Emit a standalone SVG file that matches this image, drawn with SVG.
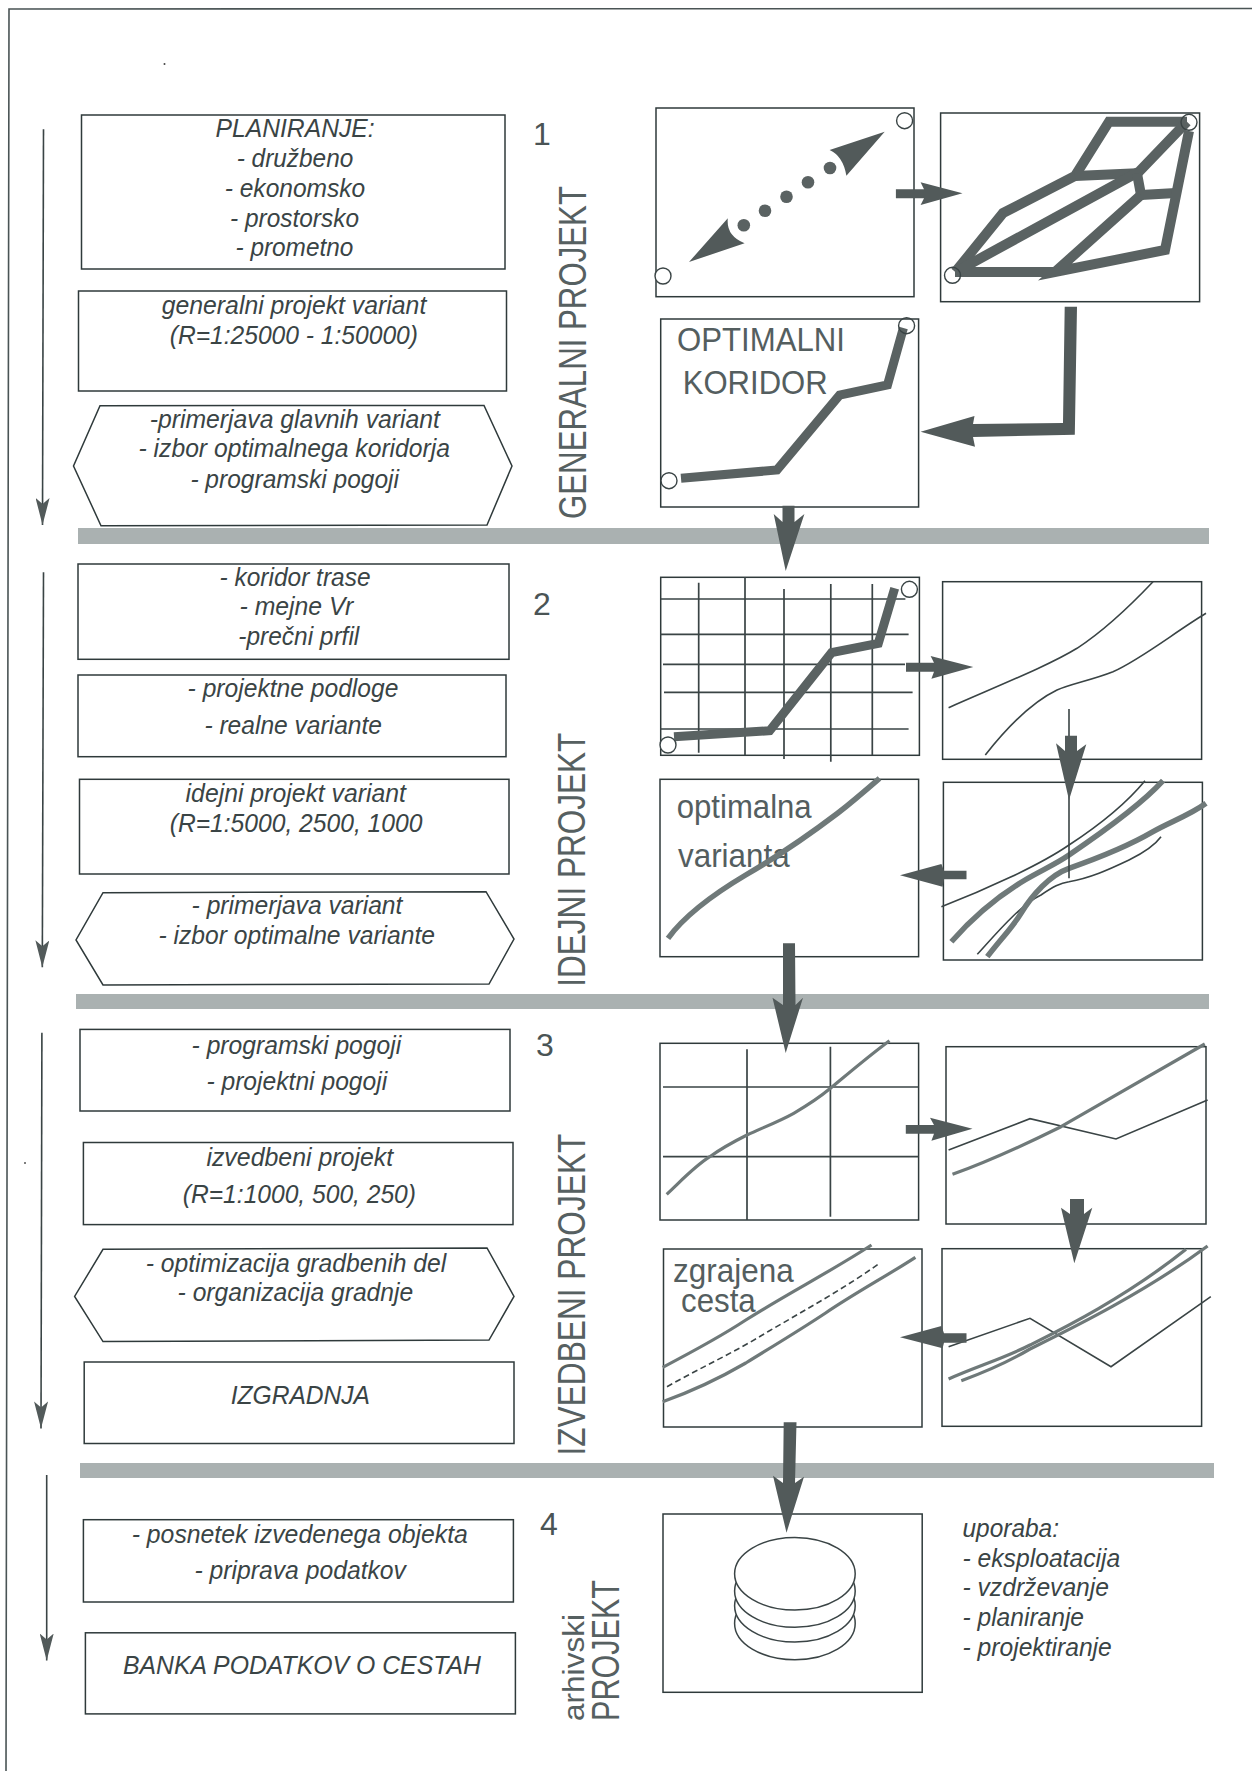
<svg xmlns="http://www.w3.org/2000/svg" width="1252" height="1771" viewBox="0 0 1252 1771">
<style>
.box{fill:#fff;stroke:#2f3a3b;stroke-width:1.5}
.pan{fill:#fff;stroke:#2f3a3b;stroke-width:1.5}
.t{font-family:"Liberation Sans",Arial,sans-serif;font-style:italic;font-size:25px;fill:#3a4445}
.r{font-family:"Liberation Sans",Arial,sans-serif;font-size:33px;fill:#545e5f}
.n{font-family:"Liberation Sans",Arial,sans-serif;font-size:32px;fill:#4a5455}
.v{font-family:"Liberation Sans",Arial,sans-serif;font-size:38px;fill:#566061}
.bar{fill:#aab1b1}
.fat{fill:none;stroke:#5a6262;stroke-width:9;stroke-linejoin:miter}
.net{fill:none;stroke:#5a6262;stroke-width:10;stroke-linejoin:miter}
.thin{fill:none;stroke:#3a4445;stroke-width:1.6}
.grid{fill:none;stroke:#3a4445;stroke-width:1.7}
.mid{fill:none;stroke:#6f7979;stroke-width:5.5}
.lite{fill:none;stroke:#6f7979;stroke-width:3.2}
.dash{fill:none;stroke:#3a4445;stroke-width:1.6;stroke-dasharray:6 3.5}
.c{fill:#fff;stroke:#3a4445;stroke-width:1.4}
.c0{fill:none;stroke:#3a4445;stroke-width:1.4}
.dot{fill:#5a6262}
.arr{fill:#525a5a}
.tl{stroke:#3a4445;stroke-width:1.6;fill:none;marker-end:url(#head)}
.db{fill:#fff;stroke:#3a4445;stroke-width:1.5}
</style>
<defs>
<marker id="head" viewBox="0 0 27 14" refX="27" refY="7" markerWidth="27" markerHeight="14" markerUnits="userSpaceOnUse" orient="auto"><path d="M0,0 L27,7 L0,14 L6,7 z" fill="#525a5a"/></marker>
</defs>
<rect width="1252" height="1771" fill="#fff"/>
<g id="frame"><path d="M1252 8.5 L9 9 L6 1771" fill="none" stroke="#4a5455" stroke-width="1.6"/><circle cx="164.5" cy="64" r="1" fill="#444"/><circle cx="25" cy="1163" r="1" fill="#555"/></g>
<g id="dividers">
<rect class="bar" x="78" y="528" width="1131" height="16"/>
<rect class="bar" x="76" y="994" width="1133" height="15"/>
<rect class="bar" x="80" y="1463" width="1134" height="15"/>
</g>

<g id="s1-planiranje"><rect class="box" x="81.5" y="115" width="423.5" height="154"/>
<text class="t" x="215.6" y="137" textLength="159" lengthAdjust="spacingAndGlyphs">PLANIRANJE:</text>
<text class="t" x="236.7" y="166.8" textLength="116.6" lengthAdjust="spacingAndGlyphs">- družbeno</text>
<text class="t" x="224.7" y="196.8" textLength="140.6" lengthAdjust="spacingAndGlyphs">- ekonomsko</text>
<text class="t" x="230" y="226.8" textLength="129" lengthAdjust="spacingAndGlyphs">- prostorsko</text>
<text class="t" x="235.5" y="256.4" textLength="117.8" lengthAdjust="spacingAndGlyphs">- prometno</text></g>
<g id="s1-generalni"><rect class="box" x="78.5" y="291" width="428" height="100"/>
<text class="t" x="161.7" y="314.3" textLength="264.6" lengthAdjust="spacingAndGlyphs">generalni projekt variant</text>
<text class="t" x="169.7" y="344" textLength="248.3" lengthAdjust="spacingAndGlyphs">(R=1:25000 - 1:50000)</text></g>
<g id="s1-primerjava"><polygon class="box" points="100,405.7 484,405.4 512,466 487,525 101,525.7 73.5,466"/>
<text class="t" x="149.7" y="427.5" textLength="290.3" lengthAdjust="spacingAndGlyphs">-primerjava glavnih variant</text>
<text class="t" x="138.5" y="457" textLength="311.5" lengthAdjust="spacingAndGlyphs">- izbor optimalnega koridorja</text>
<text class="t" x="190.4" y="487.5" textLength="208.6" lengthAdjust="spacingAndGlyphs">- programski pogoji</text></g>
<g id="s1-label"><text class="n" x="533" y="144.6">1</text>
<text class="v" transform="translate(586,519) rotate(-90)" textLength="333" lengthAdjust="spacingAndGlyphs">GENERALNI PROJEKT</text></g>

<g id="s2-koridor"><rect class="box" x="78" y="564" width="431" height="95.3"/>
<text class="t" x="219.6" y="585.7" textLength="150.9" lengthAdjust="spacingAndGlyphs">- koridor trase</text>
<text class="t" x="239.5" y="615.3" textLength="113.8" lengthAdjust="spacingAndGlyphs">- mejne Vr</text>
<text class="t" x="238.3" y="645.3" textLength="121" lengthAdjust="spacingAndGlyphs">-prečni prfil</text></g>
<g id="s2-podloge"><rect class="box" x="78" y="675" width="428" height="81.7"/>
<text class="t" x="187.6" y="696.7" textLength="210.8" lengthAdjust="spacingAndGlyphs">- projektne podloge</text>
<text class="t" x="204.4" y="734.3" textLength="177.6" lengthAdjust="spacingAndGlyphs">- realne variante</text></g>
<g id="s2-idejni"><rect class="box" x="79.5" y="779.3" width="429.5" height="94.7"/>
<text class="t" x="185.6" y="801.7" textLength="220.4" lengthAdjust="spacingAndGlyphs">idejni projekt variant</text>
<text class="t" x="169.7" y="831.7" textLength="252.7" lengthAdjust="spacingAndGlyphs">(R=1:5000, 2500, 1000</text></g>
<g id="s2-primerjava"><polygon class="box" points="103,892.7 486,891.7 514,939 489,984 103,985 76,940"/>
<text class="t" x="191.6" y="914" textLength="210.8" lengthAdjust="spacingAndGlyphs">- primerjava variant</text>
<text class="t" x="158.5" y="944" textLength="276.5" lengthAdjust="spacingAndGlyphs">- izbor optimalne variante</text></g>
<g id="s2-label"><text class="n" x="533" y="615">2</text>
<text class="v" transform="translate(585,986.7) rotate(-90)" textLength="254" lengthAdjust="spacingAndGlyphs">IDEJNI PROJEKT</text></g>

<g id="s3-pogoji"><rect class="box" x="80" y="1029.4" width="430" height="81.6"/>
<text class="t" x="191.6" y="1053.7" textLength="209.6" lengthAdjust="spacingAndGlyphs">- programski pogoji</text>
<text class="t" x="206.4" y="1090" textLength="180.8" lengthAdjust="spacingAndGlyphs">- projektni pogoji</text></g>
<g id="s3-izvedbeni"><rect class="box" x="83.4" y="1142.5" width="429.6" height="82.1"/>
<text class="t" x="206.4" y="1166.3" textLength="186.8" lengthAdjust="spacingAndGlyphs">izvedbeni projekt</text>
<text class="t" x="182.8" y="1203.2" textLength="233.2" lengthAdjust="spacingAndGlyphs">(R=1:1000, 500, 250)</text></g>
<g id="s3-optimizacija"><polygon class="box" points="103,1249.3 487,1247.9 514,1296.4 489,1340 103,1341.6 74.6,1296.4"/>
<text class="t" x="145.7" y="1272" textLength="300.6" lengthAdjust="spacingAndGlyphs">- optimizacija gradbenih del</text>
<text class="t" x="177.6" y="1301" textLength="235.6" lengthAdjust="spacingAndGlyphs">- organizacija gradnje</text></g>
<g id="s3-izgradnja"><rect class="box" x="84.2" y="1362" width="429.8" height="81.5"/>
<text class="t" x="230.7" y="1404.2" textLength="139.3" lengthAdjust="spacingAndGlyphs">IZGRADNJA</text></g>
<g id="s3-label"><text class="n" x="536" y="1056">3</text>
<text class="v" transform="translate(585,1455.6) rotate(-90)" textLength="322" lengthAdjust="spacingAndGlyphs">IZVEDBENI PROJEKT</text></g>

<g id="s4-posnetek"><rect class="box" x="83.4" y="1519.7" width="430" height="82.3"/>
<text class="t" x="131.7" y="1542.5" textLength="336.2" lengthAdjust="spacingAndGlyphs">- posnetek izvedenega objekta</text>
<text class="t" x="194.4" y="1579" textLength="211.6" lengthAdjust="spacingAndGlyphs">- priprava podatkov</text></g>
<g id="s4-banka"><rect class="box" x="85.4" y="1632.8" width="430" height="81.1"/>
<text class="t" x="123" y="1674" textLength="358" lengthAdjust="spacingAndGlyphs">BANKA PODATKOV O CESTAH</text></g>
<g id="s4-label"><text class="n" x="540" y="1535">4</text>
<text class="v" style="font-size:30px" transform="translate(583.6,1721) rotate(-90)" textLength="107" lengthAdjust="spacingAndGlyphs">arhivski</text>
<text class="v" transform="translate(618.8,1721) rotate(-90)" textLength="141" lengthAdjust="spacingAndGlyphs">PROJEKT</text></g>

<g id="panel-a"><rect class="pan" x="656" y="108" width="258" height="188.7"/>
<ellipse class="c" cx="904.6" cy="120.7" rx="8" ry="8"/><ellipse class="c" cx="663" cy="276" rx="8" ry="8"/>
<circle class="dot" cx="743.8" cy="225.3" r="6.3"/><circle class="dot" cx="765" cy="210.7" r="6.3"/><circle class="dot" cx="786.5" cy="196.7" r="6.3"/><circle class="dot" cx="808" cy="182.3" r="6.3"/><circle class="dot" cx="830" cy="168" r="6.3"/>
<path class="arr" d="M884.7 131.7 L829.6 150 Q843 156 846.4 175.7 Z"/>
<path class="arr" d="M689 262 L727.8 218.3 Q726 236 744.6 243.3 Z"/></g>

<g id="panel-b"><rect class="pan" x="940.6" y="113" width="259" height="188.7"/>
<path class="net" d="M955 272 L1055 272"/>
<path class="net" d="M955.3 272 L1003 213 L1075 176 L1109 121.7 L1187 121.7"/>
<path class="net" d="M1075 176 L1137 173.3"/>
<path class="net" d="M955.3 272 L1139 171.7 L1187 121.7"/>
<path class="net" d="M1137 173.3 L1141 195 L1176 193"/>
<path class="net" d="M1189 131 L1165 250 L1055 272 L1141 195"/>
<circle class="c0" cx="952.5" cy="275.3" r="8"/><circle class="c0" cx="1189" cy="122.3" r="8"/></g>

<g id="panel-c"><rect class="pan" x="660.7" y="319" width="257.9" height="188"/>
<path class="fat" d="M681 478.3 L777 470 L839.6 395 L887.5 385 L903.4 328"/>
<circle class="c" cx="669" cy="480.7" r="8"/><circle class="c0" cx="906.6" cy="325.7" r="8"/>
<text class="r" x="677" y="350.7" textLength="168" lengthAdjust="spacingAndGlyphs">OPTIMALNI</text>
<text class="r" x="682.7" y="394" textLength="145" lengthAdjust="spacingAndGlyphs">KORIDOR</text></g>

<g id="panel-d"><rect class="pan" x="660.7" y="577.3" width="258.7" height="178"/>
<path class="grid" d="M698.7 582.7V752.7M745 577V755M784 589V759M830.8 584V761.7M872.3 584V755M660.7 599H905.4M660 634.3H908.6M663 664.3H905M664 692.3H912.6M660 729H908.6"/>
<path class="fat" d="M674 736.7 L769.7 730.7 L831.6 652.7 L878.3 643.3 L894.7 588.3"/>
<circle class="c" cx="668" cy="745" r="8"/><circle class="c" cx="909.4" cy="589.3" r="8"/></g>

<g id="panel-e"><rect class="pan" x="942.6" y="581.7" width="259" height="177.6"/>
<path class="thin" d="M948.6 707.7 C1000 685 1050 665 1077 648.3 C1105 630 1130 606 1153 581.7"/>
<path class="thin" d="M985.3 755 C1005 730 1030 703 1057 690 C1070 684 1092 680 1113 671.7 C1140 660 1175 632 1206 613.3"/></g>

<g id="panel-f"><rect class="pan" x="943.4" y="782.3" width="259" height="177.7"/>
<path class="thin" d="M941.4 906.7 C985 890 1040 865 1069 845 C1095 828 1125 805 1145 780.7"/>
<path class="thin" d="M977.3 954.3 C995 935 1020 905 1041 895 C1053 887 1060 883 1069 881.7 C1090 878 1108 870 1129 860 C1145 852 1155 845 1161 836.7"/>
<path class="mid" d="M951.4 941.7 C975 915 1000 895 1025 880 C1042 870 1056 864 1069 855 C1100 834 1140 806 1163 780.7"/>
<path class="mid" d="M987.3 956.7 C1000 940 1012 928 1021 913.3 C1032 895 1050 875 1069 868.3 C1090 861 1125 848 1153 831.7 C1170 822 1190 815 1206 803.3"/></g>

<g id="panel-g"><rect class="pan" x="660" y="779.3" width="258.6" height="177.4"/>
<text class="r" x="676.7" y="818.3" textLength="135" lengthAdjust="spacingAndGlyphs">optimalna</text>
<text class="r" x="678" y="867.3" textLength="111.7" lengthAdjust="spacingAndGlyphs">varianta</text>
<path class="mid" d="M668 938.3 C685 915 712 895 745.7 875 C775 858 805 838 837.6 813.3 C852 802 866 790 879.5 778.3"/></g>

<g id="panel-h"><rect class="pan" x="660" y="1043.3" width="258.6" height="176.7"/>
<path class="grid" d="M747 1049.3V1220M830.4 1046.7V1216.7M663 1087H918.6M663 1156.7H918.6"/>
<path class="lite" d="M666.7 1194.3 C682 1180 695 1166 709.8 1156.7 C722 1148 735 1141 747 1135 C762 1128 780 1121 793.7 1113.3 C808 1105 820 1097 830.4 1088.3 C850 1072 870 1055 889.5 1040.7"/></g>

<g id="panel-i"><rect class="pan" x="946" y="1046.7" width="260" height="177.3"/>
<path class="thin" d="M948.6 1150 L1030 1118.7 L1116 1139 L1207.6 1100"/>
<path class="lite" d="M952.5 1174.3 C970 1168 1010 1152 1061 1126.7 L1204.8 1044"/></g>

<g id="panel-j"><rect class="pan" x="942" y="1248.7" width="259.6" height="177.6"/>
<path class="thin" d="M948.6 1346.7 L1030 1318.3 L1111 1366.7 L1210.8 1296.7"/>
<path class="lite" d="M948.6 1379 C975 1367 1005 1358 1030 1345 C1060 1330 1125 1298 1186 1249.3"/>
<path class="lite" d="M961.3 1380.7 C985 1372 1008 1362 1030 1349 C1060 1334 1140 1296 1207.6 1246"/></g>

<g id="panel-k"><rect class="pan" x="663.5" y="1249" width="258.5" height="178"/>
<text class="r" x="673" y="1281.7" textLength="120.7" lengthAdjust="spacingAndGlyphs">zgrajena</text>
<text class="r" x="681" y="1311.7" textLength="74.7" lengthAdjust="spacingAndGlyphs">cesta</text>
<path class="lite" d="M662.7 1367.3 C690 1353 720 1337 745.8 1320 C790 1292 830 1272 871.5 1245"/>
<path class="dash" d="M667 1386.7 C700 1368 735 1352 765.7 1333 C805 1310 845 1288 879.5 1263.3"/>
<path class="lite" d="M662.7 1401.7 C690 1392 720 1378 745.8 1363 C775 1345 800 1330 825.6 1313 C855 1293 885 1277 915.4 1257.3"/></g>

<g id="panel-l"><rect class="pan" x="663" y="1514" width="259.2" height="178.3"/>
<g id="database"><ellipse class="db" cx="794.9" cy="1623.4" rx="60.3" ry="36.3"/><ellipse class="db" cx="794.9" cy="1605.7" rx="60.3" ry="36.3"/><ellipse class="db" cx="794.9" cy="1591" rx="60.3" ry="36.3"/><ellipse class="db" cx="794.9" cy="1573.7" rx="60.3" ry="36.3"/></g></g>
<g id="uporaba">
<text class="t" x="962.5" y="1537.3" textLength="96.5" lengthAdjust="spacingAndGlyphs">uporaba:</text>
<text class="t" x="962.5" y="1566.7" textLength="157.7" lengthAdjust="spacingAndGlyphs">- eksploatacija</text>
<text class="t" x="962.5" y="1596" textLength="146.5" lengthAdjust="spacingAndGlyphs">- vzdrževanje</text>
<text class="t" x="962.5" y="1626" textLength="121.5" lengthAdjust="spacingAndGlyphs">- planiranje</text>
<text class="t" x="962.5" y="1655.7" textLength="149.3" lengthAdjust="spacingAndGlyphs">- projektiranje</text>
</g>

<g id="connectors">
<path class="tl" d="M43.5 129.3 L42.5 525"/>
<path class="tl" d="M43.5 572.3 L42.3 967.3"/>
<path class="tl" d="M41.9 1032.8 L41 1428.4"/>
<path class="tl" d="M46.7 1475 L46.7 1660.5"/>
<polygon class="arr" points="895.9,189.3 924,189.3 920.6,182.3 962.5,193.3 920.6,205 924,198.3 895.9,198.3"/>
<polygon class="arr" points="1064.7,306.7 1077,306.7 1074.8,434.7 973,437 975,446.7 920.6,431.7 974.5,416 973,424 1063,423"/>
<polygon class="arr" points="782.5,505.7 794.5,505.7 794.5,522 804.4,514 785.7,571 773.7,514 782.5,522"/>
<polygon class="arr" points="906,662.7 934,662.7 930.6,656 973.3,667 931.4,678.7 934,671.7 906,671.7"/>
<path class="thin" d="M1069 709 V878.3"/>
<polygon class="arr" points="1065,735.7 1077,735.7 1077,751 1086.3,744.3 1069,800 1056,743.3 1065,751"/>
<polygon class="arr" points="966.5,870.7 944,870.7 941.4,864 900,875.3 942.6,886.7 944,879.3 966.5,879.3"/>
<polygon class="arr" points="783,943.3 795,943.3 795.5,1005 803,997.7 785.7,1053 772.5,997.7 783,1005"/>
<polygon class="arr" points="905.8,1125 934,1125 930,1117.7 972.5,1128.7 931.4,1140.7 934,1133.7 905.8,1133.7"/>
<polygon class="arr" points="1070,1199 1084,1199 1084,1214 1092.3,1207.7 1074.3,1263.3 1061,1207.7 1070,1214"/>
<polygon class="arr" points="966.5,1333.3 944,1333.3 941.4,1326 900,1337.3 942.6,1348.3 944,1342.7 966.5,1342.7"/>
<polygon class="arr" points="783.7,1422.3 796.5,1422.3 795,1483 804,1476.7 786.5,1532.7 773,1475.7 783,1483"/>
</g>
</svg>
